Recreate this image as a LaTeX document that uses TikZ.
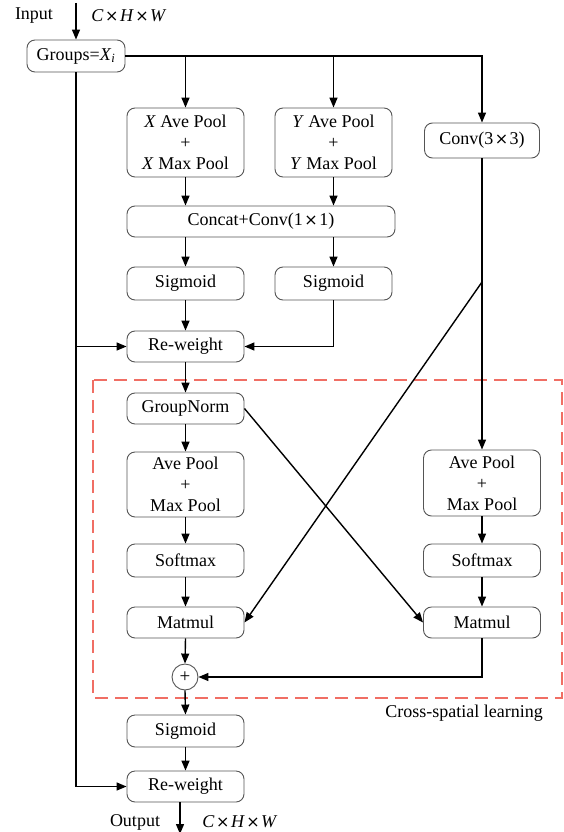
\documentclass[tikz,border=0pt]{standalone}
\usepackage{fontspec}
\setmainfont{Liberation Serif}
\newfontfamily\symfont{DejaVu Sans}
\usetikzlibrary{arrows.meta,calc}
\newcommand{\tmul}{\hspace{1.5pt}{\symfont\fontsize{16}{16}\selectfont ×}\hspace{1.5pt}}
\begin{document}
\begin{tikzpicture}[x=1pt,y=-1pt,
 box/.style={draw={rgb,255:red,85;green,85;blue,85},line width=0.9pt,rounded corners=8pt,fill=white,minimum width=117pt,minimum height=32pt,inner sep=0pt,align=center,font=\fontsize{18}{21}\selectfont},
 arr/.style={line width=1.4pt,-{Triangle[length=10pt,width=8pt]}},
 lbl/.style={font=\fontsize{18}{21}\selectfont,inner sep=0pt}]
\useasboundingbox (0,0) rectangle (563,832);
% dashed region
\draw[draw={rgb,255:red,240;green,110;blue,100},line width=1.3pt,dash pattern=on 13pt off 7pt] (93,380) rectangle (562,698);
% nodes
\node[box,minimum width=98pt] (grp) at (76,56) {Groups=\textit{X}\textsubscript{\textit{i}}};
\node[box,minimum height=69pt] (xp) at (185.5,142.5) {\textit{X} Ave Pool\\+\\\textit{X} Max Pool};
\node[box,minimum height=69pt] (yp) at (333.5,142.5) {\textit{Y} Ave Pool\\+\\\textit{Y} Max Pool};
\node[box,minimum width=268pt,minimum height=31pt] (cc) at (261,221.5) {Concat+Conv(1\tmul 1)};
\node[box,minimum width=115pt,minimum height=35pt] (conv) at (482,140.5) {Conv(3\tmul 3)};
\node[box,minimum height=33pt] (s1) at (185.5,283.5) {Sigmoid};
\node[box,minimum height=33pt] (s2) at (333.5,283.5) {Sigmoid};
\node[box,minimum height=31pt] (rw1) at (185.5,346.5) {Re-weight};
\node[box,minimum height=31pt] (gn) at (185.5,408.5) {GroupNorm};
\node[box,minimum height=65pt] (apl) at (185.5,484.5) {Ave Pool\\+\\Max Pool};
\node[box,minimum height=33pt] (sml) at (185.5,560.5) {Softmax};
\node[box,minimum height=31pt] (mml) at (185.5,622.5) {Matmul};
\node[box,minimum height=66pt] (apr) at (482,483) {Ave Pool\\+\\Max Pool};
\node[box,minimum height=33pt] (smr) at (482,560.5) {Softmax};
\node[box,minimum height=31pt] (mmr) at (482,622.5) {Matmul};
\node[circle,draw={rgb,255:red,85;green,85;blue,85},line width=0.9pt,fill=white,minimum size=26pt,inner sep=0pt,font=\fontsize{19}{19}\selectfont] (pl) at (185,677) {+};
\node[box,minimum height=32pt] (s3) at (185.5,731) {Sigmoid};
\node[box,minimum height=31pt] (rw2) at (185.5,786.5) {Re-weight};
% labels
\node[lbl] (inl) at (34,16) {Input};
\node[lbl] (inshape) at (129,16) {\textit{C}\tmul\textit{H}\tmul\textit{W}};
\node[lbl] (outl) at (135,822) {Output};
\node[lbl] (outshape) at (240,822) {\textit{C}\tmul\textit{H}\tmul\textit{W}};
\node[lbl] (csl) at (464,713) {Cross-spatial learning};
% coordinates
\coordinate (ib) at (76,3);
\coordinate (cj) at (482,282);
\coordinate (ob) at (180,834);
% connectors
\draw[arr] (ib) -- (grp.north);
\draw[arr] (grp.east) -| (conv.north);
\draw[arr] (grp.east -| xp.north) -- (xp.north);
\draw[arr] (grp.east -| yp.north) -- (yp.north);
\draw[arr] (xp.south) -- (xp.south |- cc.north);
\draw[arr] (yp.south) -- (yp.south |- cc.north);
\draw[arr] (cc.south -| s1.north) -- (s1.north);
\draw[arr] (cc.south -| s2.north) -- (s2.north);
\draw[arr] (s1.south) -- (rw1.north);
\draw[arr] (s2.south) |- (rw1.east);
\draw[arr] (grp.south) |- (rw1.west);
\draw[arr] (grp.south) |- (rw2.west);
\draw[arr] (rw1.south) -- (gn.north);
\draw[arr] (gn.south) -- (apl.north);
\draw[arr] (apl.south) -- (sml.north);
\draw[arr] (sml.south) -- (mml.north);
\draw[arr] (conv.south) -- (apr.north);
\draw[arr] (apr.south) -- (smr.north);
\draw[arr] (smr.south) -- (mmr.north);
\draw[arr] (cj) -- (mml.east);
\draw[arr] (gn.east) -- (mmr.west);
\draw[arr] (mml.south) -- (pl.north);
\draw[arr] (mmr.south) |- (pl.east);
\draw[arr] (pl.south) -- (s3.north);
\draw[arr] (s3.south) -- (rw2.north);
\draw[arr] (rw2.south -| ob) -- (ob);
\end{tikzpicture}
\end{document}
